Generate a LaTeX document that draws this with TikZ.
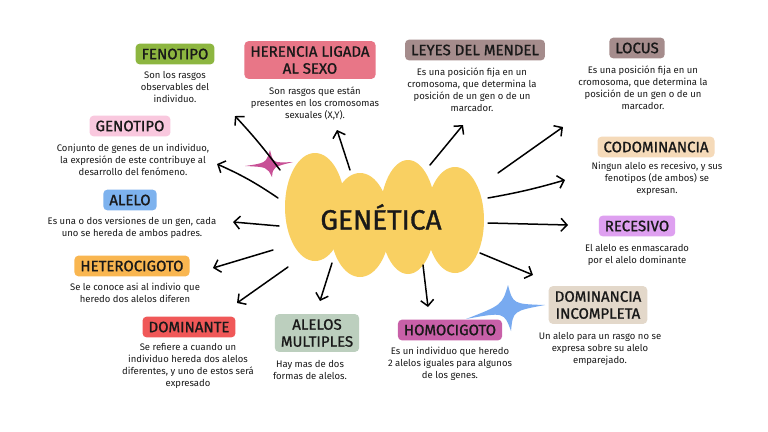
\documentclass[tikz,border=0pt]{standalone}
\usepackage{fontspec}
\setmainfont{Fira Sans}
\newfontfamily\headfont{Fira Sans}[FakeBold=1.1]
\usetikzlibrary{arrows.meta}

\definecolor{blobyellow}{RGB}{249,208,98}
\definecolor{cfen}{RGB}{141,182,64}
\definecolor{cher}{RGB}{232,118,135}
\definecolor{cley}{RGB}{165,140,140}
\definecolor{ccod}{RGB}{245,218,185}
\definecolor{crec}{RGB}{222,160,240}
\definecolor{cgen}{RGB}{249,200,222}
\definecolor{cale}{RGB}{125,178,238}
\definecolor{chet}{RGB}{249,182,80}
\definecolor{cdom}{RGB}{240,88,88}
\definecolor{cmul}{RGB}{188,207,190}
\definecolor{chom}{RGB}{200,96,168}
\definecolor{cinc}{RGB}{227,216,202}
\definecolor{starpink}{RGB}{200,80,150}
\definecolor{starblue}{RGB}{120,170,240}

\tikzset{
  head/.style={rounded corners=4pt, inner xsep=6pt, inner ysep=5pt, text=black!90,
    font=\headfont\fontsize{15}{17}\selectfont, align=center},
  body/.style={text=black!90, font=\fontsize{9.5}{12}\selectfont, align=center},
  arr/.style={-{Straight Barb[length=6pt,width=13pt]}, line width=1.5pt, line cap=round},
}

\begin{document}
\begin{tikzpicture}[x=1pt,y=-1pt]
\fill[white] (0,0) rectangle (768,431);
\useasboundingbox (0,0) rectangle (768,431);

% stars
\begin{scope}[shift={(270,165)}]
\fill[starpink] (-25,1) .. controls (-4,-2) .. (0,-15) .. controls (3,-2) .. (23,-3)
  .. controls (3,2) .. (2,12) .. controls (-3,2) .. (-25,1);
\end{scope}
\begin{scope}[shift={(508,307)}]
\fill[starblue] (-42,12) .. controls (-6,-2) .. (0,-22) .. controls (5,-3) .. (37,-2)
  .. controls (5,4) .. (3,24) .. controls (-4,5) .. (-42,12);
\end{scope}

% central blob
\fill[blobyellow] (315,207) ellipse [x radius=30, y radius=54];
\fill[blobyellow] (360,225) ellipse [x radius=30, y radius=52];
\fill[blobyellow] (408,217) ellipse [x radius=28, y radius=57];
\fill[blobyellow] (455,220) ellipse [x radius=29, y radius=53];
\node[font=\headfont\fontsize{28}{32}\selectfont, text=black!90] (gen) at (381,217) {GENÉTICA};

% headings
\node[head, fill=cfen] (fenotipo) at (175,54) {FENOTIPO};
\node[head, fill=cher] (herencia) at (310,60) {HERENCIA LIGADA\\AL SEXO};
\node[head, fill=cley] (leyes) at (475,50) {LEYES DEL MENDEL};
\node[head, fill=cley] (locus) at (637,48) {LOCUS};
\node[head, fill=ccod] (codom) at (656,147) {CODOMINANCIA};
\node[head, fill=crec] (recesivo) at (637,226) {RECESIVO};
\node[head, fill=cgen] (genotipo) at (130,126) {GENOTIPO};
\node[head, fill=cale] (alelo) at (130,200) {ALELO};
\node[head, fill=chet] (hetero) at (132,266) {HETEROCIGOTO};
\node[head, fill=cdom] (dominante) at (189,327) {DOMINANTE};
\node[head, fill=cmul] (multiples) at (317,333) {ALELOS\\MULTIPLES};
\node[head, fill=chom] (homo) at (450,330) {HOMOCIGOTO};
\node[head, fill=cinc] (incompleta) at (598,305) {DOMINANCIA\\INCOMPLETA};

% descriptions
\node[body] (fenotipoTxt) at (175,87) {Son los rasgos\\observables del\\individuo.};
\node[body] (herenciaTxt) at (315,103) {Son rasgos que están\\presentes en los cromosomas\\sexuales (X,Y).};
\node[body] (leyesTxt) at (472,90) {Es una posición fija en un\\cromosoma, que determina la\\posición de un gen o de un\\marcador.};
\node[body] (locusTxt) at (643,88) {Es una posición fija en un\\cromosoma, que determina la\\posición de un gen o de un\\marcador.};
\node[body] (codomTxt) at (657,179) {Ningun alelo es recesivo, y sus\\fenotipos (de ambos) se\\expresan.};
\node[body] (recesivoTxt) at (637,255) {El alelo es enmascarado\\por el alelo dominante};
\node[body] (genotipoTxt) at (133,160) {Conjunto de genes de un individuo,\\la expresión de este contribuye al\\desarrollo del fenómeno.};
\node[body] (aleloTxt) at (132,227.5) {Es una o dos versiones de un gen, cada\\uno se hereda de ambos padres.};
\node[body] (heteroTxt) at (135,292.5) {Se le conoce asi al indivio que\\heredo dos alelos diferen};
\node[body] (dominanteTxt) at (188,366) {Se refiere a cuando un\\individuo hereda dos alelos\\diferentes, y uno de estos será\\expresado};
\node[body] (multiplesTxt) at (310,370) {Hay mas de dos\\formas de alelos.};
\node[body] (homoTxt) at (450,363.5) {Es un individuo que heredo\\2 alelos iguales para algunos\\de los genes.};
\node[body] (incompletaTxt) at (600,349) {Un alelo para un rasgo no se\\expresa sobre su alelo\\emparejado.};

% arrow ends
\coordinate (sFen) at (280,170);  \coordinate (tFen) at (235,116);
\coordinate (sGeno) at (278,198); \coordinate (tGeno) at (217,164);
\coordinate (sAle) at (279,226);  \coordinate (tAle) at (233,222);
\coordinate (sHet) at (273,250);  \coordinate (tHet) at (213,268);
\coordinate (sDom) at (288,267);  \coordinate (tDom) at (237,303);
\coordinate (sMul) at (332,263);  \coordinate (tMul) at (320,301);
\coordinate (sHom) at (423,265);  \coordinate (tHom) at (428,307);
\coordinate (sInc) at (480,253);  \coordinate (tInc) at (533,275);
\coordinate (sRec) at (488,223);  \coordinate (tRec) at (568,225);
\coordinate (sCod) at (488,198);  \coordinate (tCod) at (565,180);
\coordinate (sLoc) at (498,173);  \coordinate (tLoc) at (563,127);
\coordinate (sLey) at (430,165);  \coordinate (tLey) at (463,125);
\coordinate (sHer) at (350,170);  \coordinate (tHer) at (337,130);

\foreach \a/\b/\bd in {sFen/tFen/3, sGeno/tGeno/5, sAle/tAle/0, sHet/tHet/0, sDom/tDom/0,
  sMul/tMul/0, sHom/tHom/0, sInc/tInc/0, sRec/tRec/0, sCod/tCod/3, sLoc/tLoc/0,
  sLey/tLey/0, sHer/tHer/0} {
\draw[arr] (\a) to[bend right=\bd] (\b);
}
\end{tikzpicture}
\end{document}
